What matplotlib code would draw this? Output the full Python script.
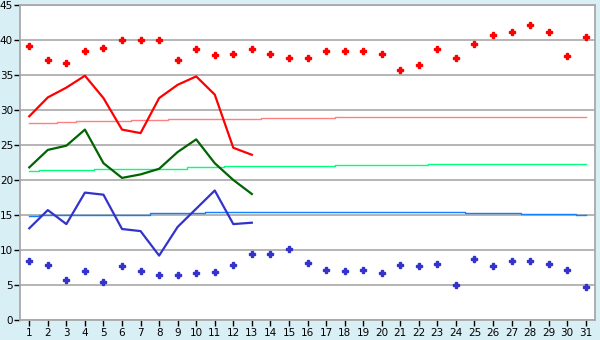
import matplotlib.pyplot as plt
import numpy as np

# Tagesdaten (Monat mit 31 Tagen)
tage = np.arange(1, 32)

# Rekord-Max (rote Rauten) und Rekord-Min (blaue Rauten)
rekord_max = [39.2, 37.2, 36.7, 38.5, 38.9, 40.0, 40.0, 40.0, 37.2, 38.7,
              37.8, 38.0, 38.7, 38.0, 37.4, 37.5, 38.5, 38.4, 38.5, 38.0,
              35.7, 36.5, 38.7, 37.4, 39.4, 40.7, 41.1, 42.1, 41.1, 37.7, 40.4]
rekord_min = [8.4, 7.8, 5.7, 7.0, 5.4, 7.7, 7.0, 6.4, 6.4, 6.7,
              6.8, 7.8, 9.5, 9.4, 10.1, 8.1, 7.2, 7.0, 7.2, 6.7,
              7.8, 7.7, 8.0, 5.0, 8.7, 7.7, 8.4, 8.4, 8.0, 7.1, 4.7]

# Normalwerte (Max, Mittel, Min)
normal_max = [28.1, 28.1, 28.24, 28.39, 28.39, 28.39, 28.53, 28.53, 28.71, 28.71,
              28.71, 28.71, 28.71, 28.86, 28.86, 28.86, 28.86, 28.95, 28.95, 28.95,
              28.95, 28.95, 28.95, 28.95, 28.95, 28.95, 28.95, 28.95, 28.95, 28.95, 28.95]
normal_mittel = [21.29, 21.43, 21.43, 21.43, 21.57, 21.57, 21.57, 21.57, 21.57, 21.86,
                 21.86, 22.0, 22.0, 22.0, 22.0, 22.0, 22.0, 22.14, 22.14, 22.14,
                 22.14, 22.14, 22.29, 22.29, 22.29, 22.29, 22.29, 22.29, 22.29, 22.29, 22.29]
normal_min = [14.8, 15.0, 15.0, 15.0, 15.0, 15.0, 15.0, 15.29, 15.29, 15.29,
              15.43, 15.43, 15.43, 15.43, 15.43, 15.43, 15.43, 15.43, 15.43, 15.43,
              15.43, 15.43, 15.43, 15.43, 15.29, 15.29, 15.29, 15.14, 15.14, 15.14, 15.0]

# Gemessene Werte (nur Tage 1-13)
tage_mess = np.arange(1, 14)
mess_max = [29.1, 31.8, 33.2, 34.9, 31.7, 27.2, 26.7, 31.7, 33.6, 34.8, 32.2, 24.6, 23.6]
mess_mittel = [21.8, 24.3, 24.9, 27.2, 22.4, 20.3, 20.8, 21.6, 24.0, 25.8, 22.4, 20.0, 18.0]
mess_min = [13.1, 15.7, 13.7, 18.2, 17.9, 13.0, 12.7, 9.2, 13.3, 15.9, 18.5, 13.7, 13.9]

bg = "#d9eff6"
fig = plt.figure(figsize=(6, 3.4), dpi=100, facecolor=bg)
ax = fig.add_axes([20 / 600, 20 / 340, 575 / 600, 315 / 340])
ax.set_facecolor("white")

# Normalwerte als Treppen
ax.step(tage, normal_max, where="mid", color="#ff8080", lw=1.0)
ax.step(tage, normal_mittel, where="mid", color="#00ff80", lw=1.0)
ax.step(tage, normal_min, where="mid", color="#1080ff", lw=1.0)

# Messwerte
ax.plot(tage_mess, mess_max, color="#ff0000", lw=1.6)
ax.plot(tage_mess, mess_mittel, color="#006400", lw=1.6)
ax.plot(tage_mess, mess_min, color="#3333cc", lw=1.6)

# Rekorde
ax.plot(tage, rekord_max, "P", color="#ff0000", ms=3.8, ls="none")
ax.plot(tage, rekord_min, "P", color="#3333cc", ms=3.8, ls="none")

ax.set_xlim(0.5, 31.5)
ax.set_ylim(0, 45)
ax.set_xticks(tage)
ax.set_yticks(np.arange(0, 46, 5))
ax.yaxis.grid(True, color="#a8a8a8", lw=1.2)
ax.set_axisbelow(True)
for s in ax.spines.values():
    s.set_color("#a8a8a8")
    s.set_linewidth(1.3)
ax.tick_params(axis="both", labelsize=7.5, length=4, width=1, color="black")
ax.tick_params(axis="x", pad=2)
ax.tick_params(axis="y", pad=1)

fig.savefig("out.png", dpi=100, facecolor=bg)
